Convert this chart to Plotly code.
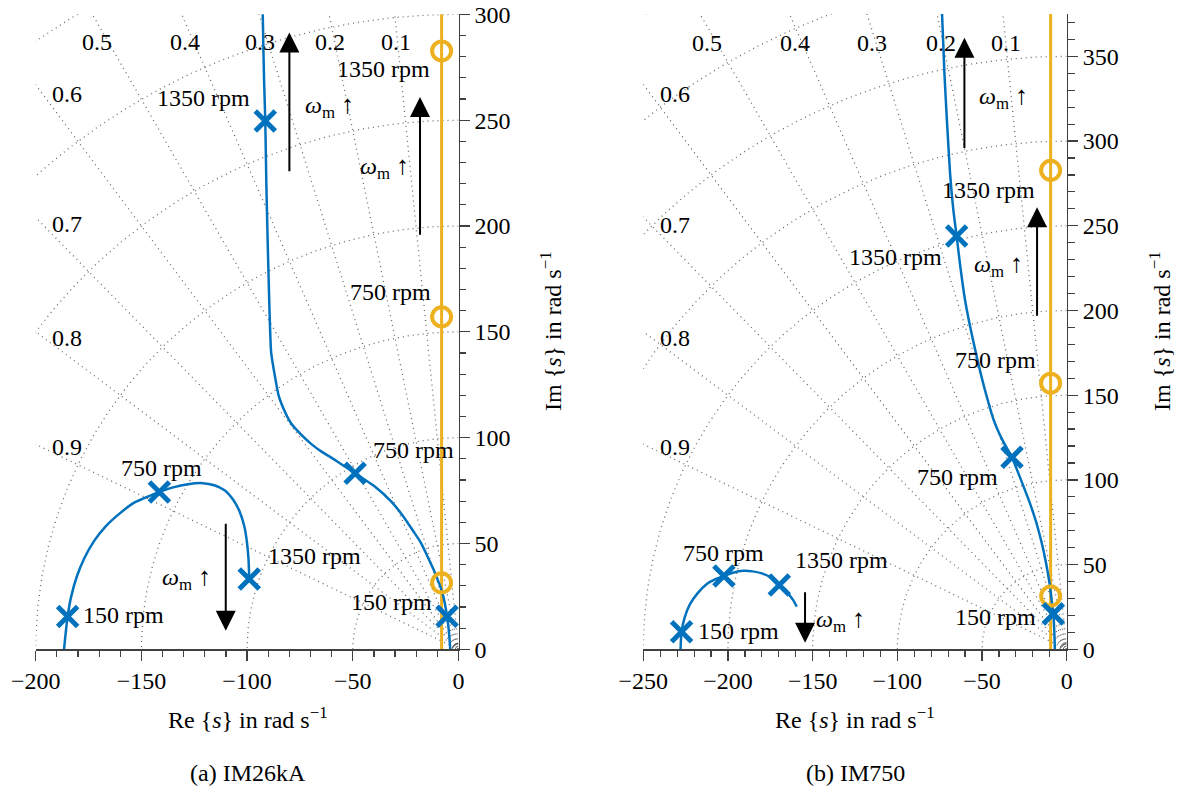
import numpy as np
import plotly.graph_objects as go

FONT = "Liberation Serif"
BLUE = "#0072BD"
ORANGE = "#EDB120"
GRID = "#6a6a6a"
AXC = "#404040"
W, H = 1183, 794
FS = 24

# ---------------- (a) IM26kA ----------------
a_upper_re = [-92.8, -92.6, -92.0, -91.4, -90.9, -90.2, -89.4, -88.6, -86.8, -85.1, -82.0, -79.2, -75.0,
              -70.0, -65.0, -59.8, -54.0, -48.9, -39.6, -32.0, -26.1, -21.5, -17.7, -14.5, -11.8, -9.5,
              -7.6, -5.4, -4.5, -3.9]
a_upper_im = [320, 300, 270, 249.6, 220, 190, 160, 140, 128.8, 120, 112, 106.8, 102,
              97.3, 93.5, 90.3, 86.5, 83.2, 76.9, 70, 62.8, 56, 50.2, 43.5, 37.7, 32,
              26.7, 15.6, 8, 0]
a_lower_re = [-186.6, -186.0, -184.9, -183.2, -180.5, -177.0, -172.5, -167.0, -160.5, -153.0, -146.0,
              -141.5, -135.0, -128.0, -121.0, -115.5, -110.5, -106.5, -103.5, -101.3, -100.0, -99.3, -99.0]
a_lower_im = [0, 6, 15.5, 25, 34.5, 43, 51, 58, 64, 69.5, 72.5,
              74.3, 76.5, 78, 78.5, 77.5, 75, 70.5, 65, 58, 50, 42, 33.2]
a_pole_re = [-5.4, -48.9, -91.4, -184.9, -141.5, -99.0]
a_pole_im = [15.6, 83.2, 249.6, 15.5, 74.3, 33.2]
a_zero_re = [-8.0, -8.0, -8.0]
a_zero_im = [31.4, 157.1, 282.7]
a_zline_re = [-8.0, -8.0]
a_zline_im = [0, 400]
a_text = ["1350 rpm", "ω↑", "1350 rpm", "ω↑", "750 rpm", "750 rpm", "750 rpm", "1350 rpm", "ω↑",
          "150 rpm", "150 rpm"]
a_text_re = [-120.7, -61.2, -35.5, -35.2, -32.4, -21.5, -140.7, -68.1, -128.6, -158.6, -31.9]
a_text_im = [260.6, 256.5, 274.0, 227.7, 168.6, 94.3, 85.6, 44.1, 33.6, 16.2, 22.5]
a_arrow_re = [-80.0, -18.2, -110.1]
a_arrow_tail = [225.2, 195.2, 60.0]
a_arrow_tip = [291.4, 260.9, 8.8]
a_zeta_lbl_re = [-171.1, -129.4, -93.9, -61.0, -29.7, -185.3, -185.3, -185.3, -185.3]
a_zeta_lbl_im = [286.7, 286.7, 286.7, 286.7, 286.7, 262.2, 200.7, 147.3, 95.8]
a_wn = [50, 100, 150, 200, 250, 300, 350, 400]
a_small_wn = [1.5, 3.0]

# ---------------- (b) IM750 ----------------
b_upper_re = [-74.3, -73.6, -72.2, -70.6, -68.8, -67.0, -65.0, -62.7, -60.0, -56.5, -52.5, -48.0, -43.0,
              -37.7, -32.3, -27.0, -22.0, -18.0, -14.8, -12.2, -10.3, -9.0, -7.9, -7.3, -7.0]
b_upper_im = [385, 375, 340, 310, 280, 260, 244, 225, 206, 188, 170, 152, 135,
              123, 113.3, 100, 87, 75, 63, 51, 40, 30, 20.9, 10, 0]
b_lower_re = [-228.0, -227.4, -225.5, -222.5, -218.0, -212.5, -207.0, -202.4, -197.0, -191.0, -185.5,
              -180.0, -174.5, -169.7, -165.0, -161.5, -159.4]
b_lower_im = [0, 10.4, 19, 26.5, 33, 38.5, 41.5, 43.3, 45.2, 46.3, 46,
              44.8, 42.3, 38, 33.5, 29, 25.2]
b_pole_re = [-7.9, -32.3, -65.0, -227.4, -202.4, -169.7]
b_pole_im = [20.9, 113.3, 244.0, 10.4, 43.3, 38.0]
b_zero_re = [-9.5, -9.5, -9.5]
b_zero_im = [31.4, 157.1, 282.7]
b_zline_re = [-9.5, -9.5]
b_zline_im = [0, 450]
b_text = ["ω↑", "1350 rpm", "1350 rpm", "ω↑", "750 rpm", "750 rpm", "750 rpm", "1350 rpm", "150 rpm",
          "ω↑", "150 rpm"]
b_text_re = [-37.3, -46.1, -101.0, -40.0, -42.3, -64.2, -202.5, -132.8, -193.9, -133.4, -41.8]
b_text_im = [326.2, 271.1, 231.8, 226.9, 170.8, 101.9, 57.0, 52.7, 10.8, 17.3, 19.2]
b_arrow_re = [-60.4, -17.5, -154.5]
b_arrow_tail = [295.0, 196.0, 34.5]
b_arrow_tip = [361.0, 261.0, 3.9]
b_zeta_lbl_re = [-212.5, -160.5, -115.2, -74.3, -35.6, -231.3, -231.3, -231.3, -231.3]
b_zeta_lbl_im = [357.7, 357.7, 357.7, 357.7, 357.7, 327.6, 250.5, 183.6, 119.6]
b_wn = [50, 100, 150, 200, 250, 300, 350, 400, 450, 500]
b_small_wn = [2.0, 4.0]

zeta = [0.5, 0.4, 0.3, 0.2, 0.1, 0.6, 0.7, 0.8, 0.9]

fig = go.Figure()


def px2paper_x(px):
    return px / W


def px2paper_y(py):
    return 1 - py / H


def add_panel(xa, ya, upper, lower, poles, zeros, zline, texts, arrows, zlbl, wn, small_wn, rmax):
    xr, yr = xa.replace("axis", ""), ya.replace("axis", "")
    gx, gy = [], []
    for z in zeta:
        ang = np.pi - np.arccos(z)
        gx += [0, rmax * np.cos(ang), None]
        gy += [0, rmax * np.sin(ang), None]
    th = np.linspace(np.pi / 2, np.pi, 200)
    for w in wn:
        gx += list(w * np.cos(th)) + [None]
        gy += list(w * np.sin(th)) + [None]
    fig.add_trace(go.Scatter(x=gx, y=gy, mode="lines", xaxis=xr, yaxis=yr, hoverinfo="skip",
                             line=dict(color=GRID, width=1.3, dash="1px,4px"), showlegend=False))
    sx, sy = [], []
    for w in small_wn:
        sx += list(w * np.cos(th)) + [None]
        sy += list(w * np.sin(th)) + [None]
    fig.add_trace(go.Scatter(x=sx, y=sy, mode="lines", xaxis=xr, yaxis=yr, hoverinfo="skip",
                             line=dict(color="#555555", width=1), showlegend=False))
    fig.add_trace(go.Scatter(x=zline[0], y=zline[1], mode="lines", xaxis=xr, yaxis=yr,
                             line=dict(color=ORANGE, width=3), showlegend=False))
    for re, im in (upper, lower):
        fig.add_trace(go.Scatter(x=re, y=im, mode="lines", xaxis=xr, yaxis=yr,
                                 line=dict(color=BLUE, width=2.5, shape="spline", smoothing=0.6),
                                 showlegend=False))
    fig.add_trace(go.Scatter(x=zeros[0], y=zeros[1], mode="markers", xaxis=xr, yaxis=yr, cliponaxis=False,
                             marker=dict(symbol="circle-open", size=19, color=ORANGE,
                                         line=dict(color=ORANGE, width=4)), showlegend=False))
    fig.add_trace(go.Scatter(x=poles[0], y=poles[1], mode="markers", xaxis=xr, yaxis=yr, cliponaxis=False,
                             marker=dict(symbol="x-thin", size=20, color=BLUE,
                                         line=dict(color=BLUE, width=5)), showlegend=False))
    for t, x, y in zip(*texts):
        txt = "<i>ω</i><sub>m</sub> <span style='font-size:26px'>↑</span>" if t == "ω↑" else t
        fig.add_annotation(x=x, y=y, xref=xr, yref=yr, text=txt, showarrow=False,
                           font=dict(family=FONT, size=FS, color="black"))
    for x, t0, t1 in zip(*arrows):
        fig.add_annotation(x=x, y=t1, ax=x, ay=t0, xref=xr, yref=yr, axref=xr, ayref=yr, text="",
                           showarrow=True, arrowhead=2, arrowsize=2.0, arrowwidth=2,
                           arrowcolor="black", standoff=0, startstandoff=0)
    for z, x, y in zip(zeta, *zlbl):
        fig.add_annotation(x=x, y=y, xref=xr, yref=yr, text=f"{z:.1f}", showarrow=False,
                           font=dict(family=FONT, size=FS, color="black"))


add_panel("xaxis", "yaxis", (a_upper_re, a_upper_im), (a_lower_re, a_lower_im), (a_pole_re, a_pole_im),
          (a_zero_re, a_zero_im), (a_zline_re, a_zline_im), (a_text, a_text_re, a_text_im),
          (a_arrow_re, a_arrow_tail, a_arrow_tip), (a_zeta_lbl_re, a_zeta_lbl_im), a_wn, a_small_wn, 600)
add_panel("xaxis2", "yaxis2", (b_upper_re, b_upper_im), (b_lower_re, b_lower_im), (b_pole_re, b_pole_im),
          (b_zero_re, b_zero_im), (b_zline_re, b_zline_im), (b_text, b_text_re, b_text_im),
          (b_arrow_re, b_arrow_tail, b_arrow_tip), (b_zeta_lbl_re, b_zeta_lbl_im), b_wn, b_small_wn, 700)

tickfont = dict(family=FONT, size=FS, color="black")
common = dict(showline=True, linecolor=AXC, linewidth=1.3, ticks="outside", ticklen=10, tickwidth=1.3,
              tickcolor=AXC, showgrid=False, zeroline=False, tickfont=tickfont, fixedrange=True,
              automargin=False, ticklabeloverflow="allow",
              minor=dict(dtick=10, ticks="outside", ticklen=6.5, tickwidth=1.2, tickcolor=AXC, showgrid=False))

fig.update_layout(
    width=W, height=H, margin=dict(l=0, r=0, t=0, b=0, pad=0, autoexpand=False),
    paper_bgcolor="white", plot_bgcolor="white", showlegend=False, hovermode=False,
    xaxis=dict(domain=[px2paper_x(35.7), px2paper_x(458.5)], range=[-200, 0], dtick=50, tick0=0,
               anchor="y", **common),
    yaxis=dict(domain=[px2paper_y(649.3), px2paper_y(14.3)], range=[0, 300.01], dtick=50, tick0=0,
               anchor="x", side="right", **common),
    xaxis2=dict(domain=[px2paper_x(643.3), px2paper_x(1066.7)], range=[-250, 0], dtick=50, tick0=0,
                anchor="y2", **common),
    yaxis2=dict(domain=[px2paper_y(649.3), px2paper_y(14.0)], range=[0, 375], dtick=50, tick0=0,
                anchor="x2", side="right", **common),
)

lab = dict(family=FONT, size=FS, color="black")
for x, y, t, ang in [
    (248, 718, "Re {<i>s</i>} in rad s<sup>−1</sup>", 0),
    (855, 718, "Re {<i>s</i>} in rad s<sup>−1</sup>", 0),
    (551, 331, "Im {<i>s</i>} in rad s<sup>−1</sup>", -90),
    (1160, 331, "Im {<i>s</i>} in rad s<sup>−1</sup>", -90),
    (248, 773, "(a) IM26kA", 0),
    (855, 773, "(b) IM750", 0),
]:
    fig.add_annotation(x=px2paper_x(x), y=px2paper_y(y), xref="paper", yref="paper", text=t,
                       showarrow=False, textangle=ang, font=lab, xanchor="center", yanchor="middle")

fig.write_html("out.html", config={"displayModeBar": False, "staticPlot": True},
               post_script="document.body.style.margin='0px';document.body.style.overflow='hidden';")
